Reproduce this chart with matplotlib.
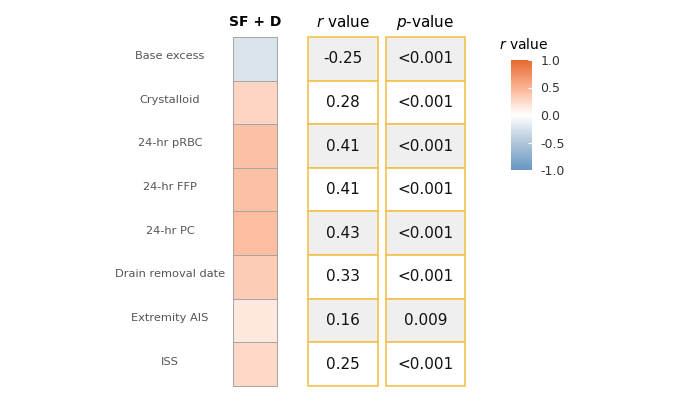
#!/usr/bin/env python3
"""Correlation heatmap with r / p-value table columns."""

import matplotlib.pyplot as plt
import numpy as np
from matplotlib.colors import LinearSegmentedColormap
from matplotlib.patches import Rectangle

variables = ["Base excess", "Crystalloid", "24-hr pRBC", "24-hr FFP", "24-hr PC",
             "Drain removal date", "Extremity AIS", "ISS"]
r_values = [-0.25, 0.28, 0.41, 0.41, 0.43, 0.33, 0.16, 0.25]
r_labels = ["-0.25", "0.28", "0.41", "0.41", "0.43", "0.33", "0.16", "0.25"]
p_labels = ["<0.001", "<0.001", "<0.001", "<0.001", "<0.001", "<0.001", "0.009", "<0.001"]
cbar_ticks = [-1.0, -0.5, 0.0, 0.5, 1.0]

W, H = 685, 407
cmap = LinearSegmentedColormap.from_list(
    "bwo",
    [(0.0, "#6696C3"), (0.25, "#B1C7D9"), (0.5, "#FFFFFF"),
     (0.75, "#FBB392"), (1.0, "#E4692F")],
)
YELLOW = "#F3C24F"
GRAY_FILL = "#EFEFEF"


def px_axes(fig, x0, y0, x1, y1):
    return fig.add_axes([x0 / W, 1 - y1 / H, (x1 - x0) / W, (y1 - y0) / H])


def main() -> None:
    fig = plt.figure(figsize=(W / 100, H / 100), dpi=100)
    n = len(variables)
    top, bottom = 37, 386

    # heatmap column
    ax_hm = px_axes(fig, 233, top, 277, bottom)
    data = np.array(r_values).reshape(-1, 1)
    mesh = ax_hm.pcolormesh(data, cmap=cmap, vmin=-1, vmax=1,
                            edgecolors="#A5A5A5", linewidth=0.6)
    mesh.set_clip_on(False)
    ax_hm.set_xlim(0, 1)
    ax_hm.set_ylim(n, 0)
    ax_hm.axis("off")
    x_lab = (170 - 233) / 44
    for i, name in enumerate(variables):
        ax_hm.text(x_lab, i + 0.44, name, ha="center", va="center",
                   fontsize=8.2, color="#555555")
    ax_hm.text(0.5, -0.34, "SF + D", ha="center", va="center",
               fontsize=10, fontweight="bold", color="black")

    # table columns
    for (x0, x1, labels, header) in [
        (308, 378, r_labels, r"$\mathit{r}$ value"),
        (386, 465, p_labels, r"$\mathit{p}$-value"),
    ]:
        ax = px_axes(fig, x0, top, x1, bottom)
        ax.set_xlim(0, 1)
        ax.set_ylim(n, 0)
        ax.axis("off")
        for i, lab in enumerate(labels):
            face = GRAY_FILL if i % 2 == 0 else "white"
            ax.add_patch(Rectangle((0, i), 1, 1, facecolor=face, edgecolor=YELLOW,
                                   linewidth=1.2, clip_on=False))
            ax.text(0.5, i + 0.5, lab, ha="center", va="center",
                    fontsize=11, color="#111111")
        ax.text(0.5, -0.34, header, ha="center", va="center",
                fontsize=11, color="black")

    # colorbar
    cax = px_axes(fig, 511, 60, 532, 170)
    cb = fig.colorbar(mesh, cax=cax, ticks=cbar_ticks)
    cb.outline.set_visible(False)
    cb.ax.tick_params(length=3, width=0.8, color="white", direction="in",
                      labelsize=9, labelcolor="#333333", pad=6)
    cb.ax.set_yticklabels([f"{t:.1f}" for t in cbar_ticks])
    cax.text(0.6, 1.14, r"$\mathit{r}$ value", transform=cax.transAxes,
             ha="center", va="center", fontsize=10, color="black")

    fig.savefig("out.png", dpi=100)
    plt.close(fig)


if __name__ == "__main__":
    main()
